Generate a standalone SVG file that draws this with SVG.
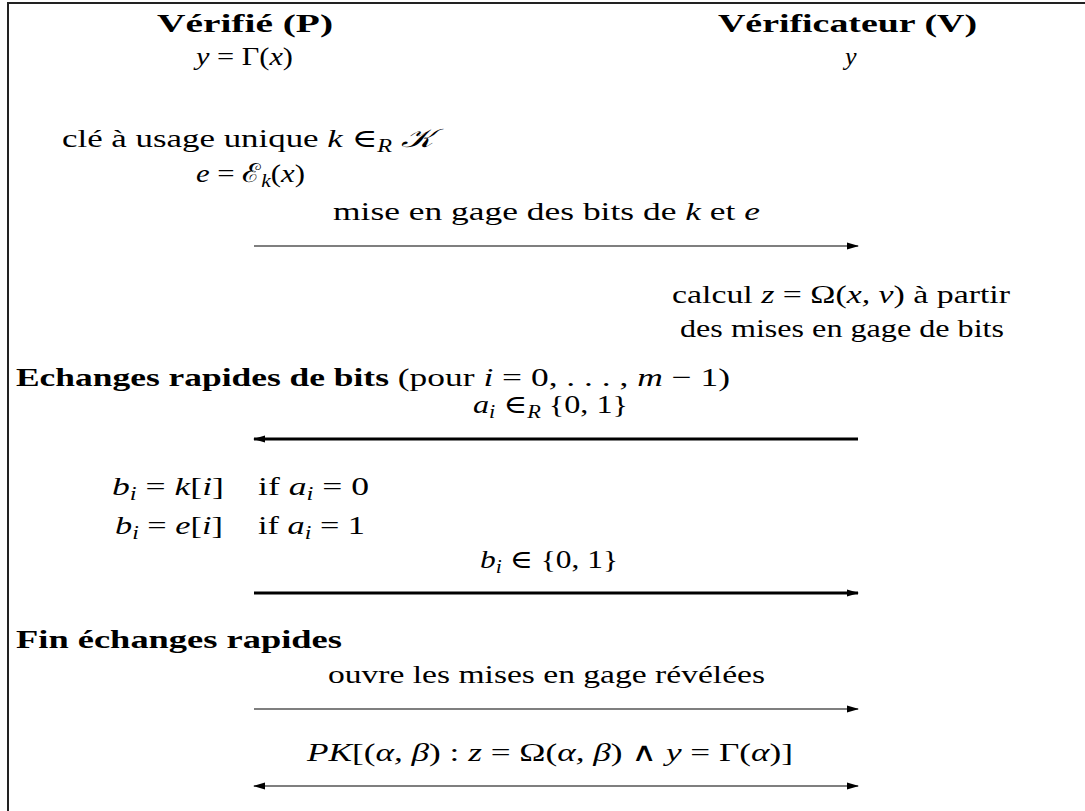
<svg xmlns="http://www.w3.org/2000/svg" width="1085" height="811" viewBox="0 0 1085 811">
<style>
text{font-family:"Liberation Serif","DejaVu Serif",serif;font-size:26px;fill:#000}
.b{font-weight:bold}
.m{font-style:italic}
.s{font-size:18px}
.frame{stroke:#222;stroke-width:2;fill:none}
.thin{stroke:#000;stroke-width:1.2;fill:none}
.thick{stroke:#000;stroke-width:2.8;fill:none}
</style>
<defs>
<marker id="ah" markerUnits="userSpaceOnUse" markerWidth="12" markerHeight="8" refX="11" refY="4" orient="auto-start-reverse">
<path d="M0,0.5 L12,4 L0,7.5 Z" fill="#000"/>
</marker>
</defs>
<rect width="1085" height="811" fill="#fff"/>
<g id="frame"><path class="frame" d="M8,811 V3 H1085"/></g>

<g id="prover-header">
<text class="b" x="157" y="32" textLength="176" lengthAdjust="spacingAndGlyphs">Vérifié (P)</text>
<text x="196" y="65" textLength="97" lengthAdjust="spacingAndGlyphs"><tspan class="m">y</tspan> = Γ(<tspan class="m">x</tspan>)</text>
</g>
<g id="verifier-header">
<text class="b" x="718" y="32" textLength="259" lengthAdjust="spacingAndGlyphs">Vérificateur (V)</text>
<text class="m" x="845" y="65">y</text>
</g>

<g id="prover-key">
<text x="62" y="147" textLength="371" lengthAdjust="spacingAndGlyphs">clé à usage unique <tspan class="m">k</tspan> ∈<tspan class="s m" dy="5">R</tspan><tspan dy="-5"> </tspan><tspan class="m">𝒦</tspan></text>
<text x="196" y="182" textLength="109" lengthAdjust="spacingAndGlyphs"><tspan class="m">e</tspan> = ℰ<tspan class="s m" dy="5">k</tspan><tspan dy="-5">(</tspan><tspan class="m">x</tspan>)</text>
</g>

<g id="msg-commit">
<text x="333" y="220" textLength="427" lengthAdjust="spacingAndGlyphs">mise en gage des bits de <tspan class="m">k</tspan> et <tspan class="m">e</tspan></text>
</g>

<g id="verifier-calc">
<text x="672" y="303" textLength="338" lengthAdjust="spacingAndGlyphs">calcul <tspan class="m">z</tspan> = Ω(<tspan class="m">x, v</tspan>) à partir</text>
<text x="680" y="337" textLength="324" lengthAdjust="spacingAndGlyphs">des mises en gage de bits</text>
</g>

<g id="fast-start">
<text x="16" y="386" textLength="714" lengthAdjust="spacingAndGlyphs"><tspan class="b">Echanges rapides de bits</tspan> (pour <tspan class="m">i</tspan> = 0, . . . , <tspan class="m">m</tspan> − 1)</text>
</g>

<g id="msg-challenge">
<text x="473" y="413" textLength="155" lengthAdjust="spacingAndGlyphs"><tspan class="m">a</tspan><tspan class="s m" dy="5">i</tspan><tspan dy="-5"> ∈</tspan><tspan class="s m" dy="5">R</tspan><tspan dy="-5"> {0, 1}</tspan></text>
</g>

<g id="prover-response">
<text x="112" y="495" textLength="112" lengthAdjust="spacingAndGlyphs"><tspan class="m">b</tspan><tspan class="s m" dy="5">i</tspan><tspan dy="-5"> = </tspan><tspan class="m">k</tspan>[<tspan class="m">i</tspan>]</text>
<text x="258" y="495" textLength="111" lengthAdjust="spacingAndGlyphs">if <tspan class="m">a</tspan><tspan class="s m" dy="5">i</tspan><tspan dy="-5"> = 0</tspan></text>
<text x="115" y="534" textLength="108" lengthAdjust="spacingAndGlyphs"><tspan class="m">b</tspan><tspan class="s m" dy="5">i</tspan><tspan dy="-5"> = </tspan><tspan class="m">e</tspan>[<tspan class="m">i</tspan>]</text>
<text x="258" y="534" textLength="107" lengthAdjust="spacingAndGlyphs">if <tspan class="m">a</tspan><tspan class="s m" dy="5">i</tspan><tspan dy="-5"> = 1</tspan></text>
</g>

<g id="msg-response">
<text x="480" y="568" textLength="138" lengthAdjust="spacingAndGlyphs"><tspan class="m">b</tspan><tspan class="s m" dy="5">i</tspan><tspan dy="-5"> ∈ {0, 1}</tspan></text>
</g>

<g id="fast-end">
<text class="b" x="16" y="648" textLength="326" lengthAdjust="spacingAndGlyphs">Fin échanges rapides</text>
</g>

<g id="msg-open">
<text x="328" y="683" textLength="437" lengthAdjust="spacingAndGlyphs">ouvre les mises en gage révélées</text>
</g>

<g id="msg-pk">
<text x="307" y="761" textLength="486" lengthAdjust="spacingAndGlyphs"><tspan class="m">PK</tspan>[(<tspan class="m">α, β</tspan>) : <tspan class="m">z</tspan> = Ω(<tspan class="m">α, β</tspan>) ∧ <tspan class="m">y</tspan> = Γ(<tspan class="m">α</tspan>)]</text>
</g>

<g id="connectors">
<line class="thin" x1="254" y1="246" x2="858" y2="246" marker-end="url(#ah)"/>
<line class="thick" x1="858" y1="439" x2="254" y2="439" marker-end="url(#ah)"/>
<line class="thick" x1="254" y1="593" x2="858" y2="593" marker-end="url(#ah)"/>
<line class="thin" x1="254" y1="709" x2="858" y2="709" marker-end="url(#ah)"/>
<line class="thin" x1="254" y1="786" x2="858" y2="786" marker-start="url(#ah)" marker-end="url(#ah)"/>
</g>
</svg>
